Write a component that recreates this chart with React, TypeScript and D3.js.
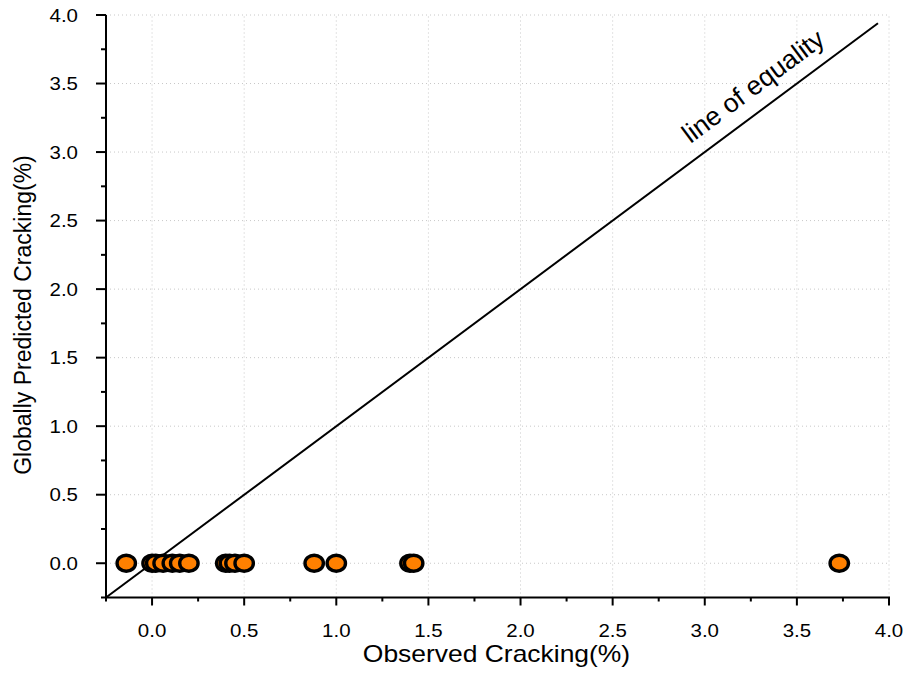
import React from "react";
import * as d3 from "d3";

// Observed vs. globally predicted cracking (%)
const observed = [-0.14, 0.0, 0.02, 0.06, 0.11, 0.15, 0.2, 0.4, 0.42, 0.45, 0.5, 0.88, 1.0, 1.4, 1.42, 3.73];
const predicted = [0, 0, 0, 0, 0, 0, 0, 0, 0, 0, 0, 0, 0, 0, 0, 0];
const majorTicks = [0.0, 0.5, 1.0, 1.5, 2.0, 2.5, 3.0, 3.5, 4.0];
const minorTicks = [-0.25, 0.25, 0.75, 1.25, 1.75, 2.25, 2.75, 3.25, 3.75];
const equalityLine = [-0.25, 3.94];
const equalityLabelAt = 3.34;

const W = 908;
const H = 675;
const FONT = "'Liberation Sans', Arial, sans-serif";

// Text widened horizontally around its anchor point
function WideText(props: {
  x: number;
  y: number;
  sx: number;
  size: number;
  anchor: "start" | "middle" | "end";
  children: React.ReactNode;
}) {
  const { x, y, sx, size, anchor, children } = props;
  return (
    <g transform={`translate(${x} ${y}) scale(${sx} 1)`}>
      <text x={0} y={0} textAnchor={anchor} fontFamily={FONT} fontSize={size} fill="#000">
        {children}
      </text>
    </g>
  );
}

export default function App() {
  const x = d3.scaleLinear().domain([-0.25, 4.0]).range([106, 889]);
  const y = d3.scaleLinear().domain([-0.25, 4.0]).range([597.5, 15]);
  const fmt = d3.format(".1f");
  const line = d3
    .line<number>()
    .x((d) => x(d))
    .y((d) => y(d));

  const theta = Math.atan2(y(0) - y(1), x(1) - x(0));
  const angle = (theta * 180) / Math.PI;
  const off = 15;
  const labelX = x(equalityLabelAt) - off * Math.sin(theta);
  const labelY = y(equalityLabelAt) - off * Math.cos(theta);

  return (
    <svg
      width={W}
      height={H}
      style={{ position: "absolute", left: 0, top: 0, background: "#fff" }}
    >
      {/* dotted grid */}
      <g stroke="#c8c8c8" strokeWidth={1} strokeDasharray="1,3">
        {majorTicks.map((t) => (
          <line key={"gx" + t} x1={x(t)} x2={x(t)} y1={y(-0.25)} y2={y(4.0)} />
        ))}
        {majorTicks.map((t) => (
          <line key={"gy" + t} x1={x(-0.25)} x2={x(4.0)} y1={y(t)} y2={y(t)} />
        ))}
      </g>

      {/* line of equality */}
      <path d={line(equalityLine) || ""} fill="none" stroke="#000" strokeWidth={2} />
      <text
        x={labelX}
        y={labelY}
        transform={`rotate(${-angle} ${labelX} ${labelY})`}
        textAnchor="middle"
        fontFamily={FONT}
        fontSize={26.5}
        fill="#000"
      >
        line of equality
      </text>

      {/* axes */}
      <g stroke="#000" strokeWidth={2}>
        <line x1={x(-0.25)} x2={x(-0.25)} y1={y(-0.25) + 1} y2={y(4.0)} />
        <line x1={x(-0.25) - 1} x2={x(4.0) + 1} y1={y(-0.25)} y2={y(-0.25)} />
        {majorTicks.map((t) => (
          <line key={"tx" + t} x1={x(t)} x2={x(t)} y1={y(-0.25)} y2={y(-0.25) + 8} />
        ))}
        {minorTicks.map((t) => (
          <line key={"mx" + t} x1={x(t)} x2={x(t)} y1={y(-0.25)} y2={y(-0.25) + 4} />
        ))}
        {majorTicks.map((t) => (
          <line key={"ty" + t} x1={x(-0.25) - 10} x2={x(-0.25)} y1={y(t)} y2={y(t)} />
        ))}
        {minorTicks.map((t) => (
          <line key={"my" + t} x1={x(-0.25) - 5} x2={x(-0.25)} y1={y(t)} y2={y(t)} />
        ))}
      </g>

      {/* tick labels */}
      {majorTicks.map((t) => (
        <WideText key={"lx" + t} x={x(t)} y={637} sx={1.17} size={17.5} anchor="middle">
          {fmt(t)}
        </WideText>
      ))}
      {majorTicks.map((t) => (
        <WideText key={"ly" + t} x={78} y={y(t) + 6.5} sx={1.17} size={17.5} anchor="end">
          {fmt(t)}
        </WideText>
      ))}

      {/* axis titles */}
      <WideText x={496.5} y={662} sx={1.15} size={23} anchor="middle">
        Observed Cracking(%)
      </WideText>
      <text
        transform={`translate(30.5 315) rotate(-90)`}
        textAnchor="middle"
        fontFamily={FONT}
        fontSize={23}
        fill="#000"
      >
        Globally Predicted Cracking(%)
      </text>

      {/* data points */}
      <g fill="#ff8000" stroke="#000" strokeWidth={3.4}>
        {observed.map((o, i) => (
          <ellipse key={i} cx={x(o)} cy={y(predicted[i])} rx={9.2} ry={8} />
        ))}
      </g>
    </svg>
  );
}
